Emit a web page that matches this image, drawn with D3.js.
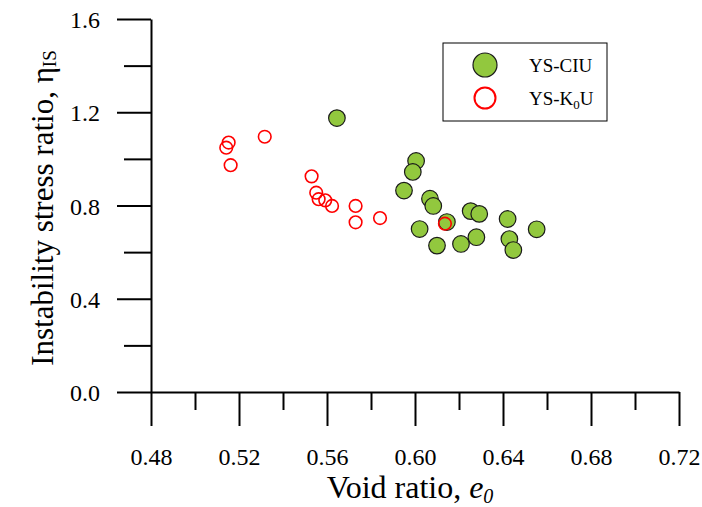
<!DOCTYPE html>
<html>
<head>
<meta charset="utf-8">
<script src="https://cdn.jsdelivr.net/npm/d3@7"></script>
<style>
  body { margin: 0; background: #fff; }
  text { font-family: "Times New Roman", "Liberation Serif", serif; fill: #000; }
</style>
</head>
<body>
<div id="chart"></div>
<script>
// data
var ciuVoid  = [0.5645, 0.6005, 0.5990, 0.5950, 0.6068, 0.6083, 0.6021, 0.6145, 0.6100,
                0.6253, 0.6292, 0.6209, 0.6279, 0.6421, 0.6429, 0.6447, 0.6553];
var ciuEta   = [1.175, 0.991, 0.944, 0.864, 0.829, 0.798, 0.699, 0.729, 0.628,
                0.776, 0.764, 0.635, 0.664, 0.742, 0.656, 0.609, 0.698];
var k0uVoid  = [0.5153, 0.5142, 0.5162, 0.5317, 0.5530, 0.5551, 0.5562, 0.5592, 0.5623,
                0.5730, 0.5730, 0.5841, 0.6136];
var k0uEta   = [1.070, 1.048, 0.973, 1.095, 0.925, 0.855, 0.827, 0.822, 0.798,
                0.798, 0.728, 0.746, 0.722];
var xTicks = [0.48, 0.52, 0.56, 0.60, 0.64, 0.68, 0.72];
var xMinor = [0.50, 0.54, 0.58, 0.62, 0.66, 0.70];
var yTicks = [0.0, 0.4, 0.8, 1.2, 1.6];
var yMinor = [0.2, 0.6, 1.0, 1.4];

var w = 702, h = 507;
var plotLeft = 151, plotRight = 679, plotTop = 19, plotBottom = 392;

var svg = d3.select("#chart").append("svg")
    .attr("width", w).attr("height", h);

var x = d3.scaleLinear().domain([0.48, 0.72]).range([plotLeft, plotRight]);
var y = d3.scaleLinear().domain([0, 1.6]).range([plotBottom, plotTop]);

// x axis: major ticks with labels, then minor ticks
var xAxis = svg.append("g").attr("transform", "translate(0," + plotBottom + ")")
    .call(d3.axisBottom(x).tickValues(xTicks).tickSize(34).tickSizeOuter(0).tickPadding(39)
        .tickFormat(d3.format(".2f")));
svg.append("g").attr("transform", "translate(0," + plotBottom + ")")
    .call(d3.axisBottom(x).tickValues(xMinor).tickSize(18).tickFormat(""))
    .select(".domain").remove();

// y axis
var yAxis = svg.append("g").attr("transform", "translate(" + plotLeft + ",0)")
    .call(d3.axisLeft(y).tickValues(yTicks).tickSize(34).tickSizeOuter(0).tickPadding(17)
        .tickFormat(d3.format(".1f")));
svg.append("g").attr("transform", "translate(" + plotLeft + ",0)")
    .call(d3.axisLeft(y).tickValues(yMinor).tickSize(27).tickFormat(""))
    .select(".domain").remove();

svg.selectAll(".tick line, .domain").attr("stroke", "#000").attr("stroke-width", 2);
svg.selectAll(".tick text").attr("font-size", 24)
    .attr("font-family", "'Times New Roman','Liberation Serif',serif");
xAxis.selectAll(".tick text").attr("dy", "0");
yAxis.selectAll(".tick text").attr("dy", "0.36em");

// YS-CIU points
svg.append("g").selectAll("circle")
    .data(ciuVoid)
    .enter()
    .append("circle")
    .attr("cx", function(d) { return x(d); })
    .attr("cy", function(d, i) { return y(ciuEta[i]); })
    .attr("r", 8.3)
    .attr("fill", "#92c83e")
    .attr("stroke", "#1a1a1a")
    .attr("stroke-width", 1.2);

// YS-K0U points (open, drawn on top)
svg.append("g").selectAll("circle")
    .data(k0uVoid)
    .enter()
    .append("circle")
    .attr("cx", function(d) { return x(d); })
    .attr("cy", function(d, i) { return y(k0uEta[i]); })
    .attr("r", 6.3)
    .attr("fill", "none")
    .attr("stroke", "#ff0000")
    .attr("stroke-width", 1.6);

// axis titles
svg.append("text")
    .attr("x", 410).attr("y", 498)
    .attr("text-anchor", "middle")
    .attr("font-size", 32)
    .html('Void ratio, <tspan font-style="italic">e</tspan><tspan font-style="italic" font-size="20" dy="5">0</tspan>');

svg.append("text")
    .attr("transform", "translate(53,208) rotate(-90)")
    .attr("text-anchor", "middle")
    .attr("font-size", 31)
    .html('Instability stress ratio, η<tspan font-size="19" dy="3">IS</tspan>');

// legend
var lg = svg.append("g");
lg.append("rect").attr("x", 443).attr("y", 43).attr("width", 164).attr("height", 78)
    .attr("fill", "#fff").attr("stroke", "#000").attr("stroke-width", 1);
lg.append("circle").attr("cx", 485).attr("cy", 65).attr("r", 12)
    .attr("fill", "#92c83e").attr("stroke", "#1a1a1a").attr("stroke-width", 1.2);
lg.append("circle").attr("cx", 485).attr("cy", 98).attr("r", 10.5)
    .attr("fill", "none").attr("stroke", "#ff0000").attr("stroke-width", 2);
lg.append("text").attr("x", 529).attr("y", 72).attr("font-size", 19).text("YS-CIU");
lg.append("text").attr("x", 529).attr("y", 105).attr("font-size", 19)
    .html('YS-K<tspan font-size="13" dy="4">0</tspan><tspan dy="-4">U</tspan>');
</script>
</body>
</html>
